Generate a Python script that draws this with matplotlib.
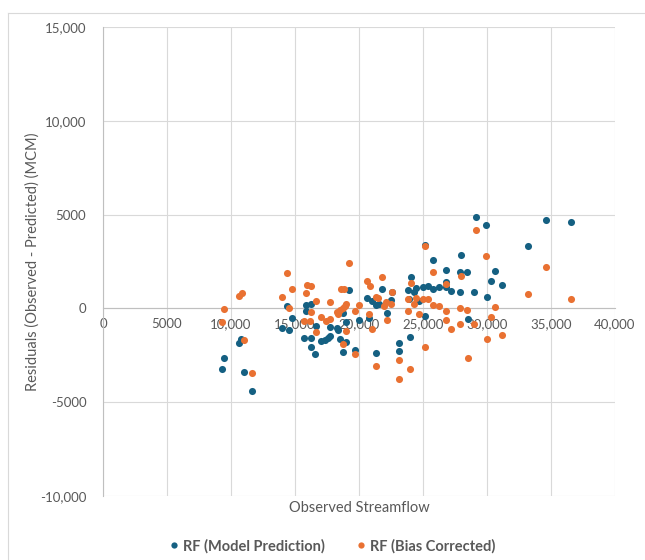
import matplotlib
matplotlib.use("Agg")
import matplotlib.pyplot as plt
from matplotlib.ticker import FuncFormatter, MultipleLocator
from matplotlib.lines import Line2D

# Data
rf_model_x = [9266, 9427, 10618, 10811, 11004, 11647, 14414, 13996, 14543, 14768,
              15894, 15894, 16280, 15701, 16280, 16216, 16570, 16667, 17053, 17375,
              17600, 17728, 17696, 18275, 18340, 18533, 18726, 18726, 18983, 18983,
              19241, 19723, 20013, 20592, 20753, 20978, 21300, 21300, 21557, 21815,
              22201, 22523, 22587, 23102, 23102, 23806, 23903, 23967, 24063, 24289,
              24450, 24707, 25032, 25161, 25161, 25418, 25804, 25804, 26222, 26770,
              26770, 26770, 27188, 27928, 27992, 27928, 28411, 28539, 28990, 29118,
              29923, 29987, 30341, 30630, 31177, 33237, 34620, 36551]
rf_model_y = [-3215, -2626, -1827, -1655, -3368, -4395, 133, -1027, -1141, -495,
              190, -114, 228, -1598, -1598, -2074, -2416, -932, -1731, -1693,
              -1560, -1465, -970, -1046, -1160, -1655, -2340, -247, -704, -1807,
              970, -2226, -628, 552, -495, 400, 190, -2378, 247, 1046,
              -266, 438, 875, -1827, -2283, 970, 514, -1541, 1693, 856,
              1084, 380, 1160, 3405, -380, 1198, 2568, 1046, 1141, 2055,
              1389, 1141, 913, 875, 2854, 1960, 1960, -571, 875, 4890,
              4433, 590, 1484, 2017, 1237, 3349, 4738, 4586]

rf_bias_x = [9266, 9427, 10618, 10843, 11004, 11647, 13964, 14414, 14543, 14768,
             15894, 15927, 16280, 15701, 16280, 16152, 16602, 16667, 17053, 17439,
             17696, 17696, 18275, 18340, 18533, 18597, 18790, 18726, 18919, 19015,
             18726, 18983, 19241, 19723, 19723, 20013, 20592, 20849, 20753, 21010,
             21300, 21493, 21300, 21815, 21944, 22201, 22072, 22523, 22587, 23102,
             23102, 23806, 23838, 23967, 24063, 24289, 24450, 24707, 25032, 25161,
             25161, 25418, 25804, 25804, 26222, 26770, 26770, 26770, 27188, 27928,
             27992, 27928, 28411, 28539, 28990, 29118, 29923, 29987, 30341, 30630,
             31177, 33237, 34620, 36551]
rf_bias_y = [-704, -57, 647, 799, -1674, -3463, 609, 1865, 38, 1008,
             837, 1237, 1198, -666, -209, -647, -1256, 380, -457, -666,
             -552, 342, -209, -323, -95, 1046, 1046, 19, 152, 209,
             -1903, -1180, 2397, -114, -2416, 190, 1446, 1198, -323, -1084,
             590, 533, -3063, 1674, 152, -628, 342, 247, 856, -2740,
             -3787, -114, 476, -3215, 1332, 209, 533, -323, 476, 3330,
             -2074, 514, 1960, 190, 133, 1294, -114, -609, -1103, 19,
             1731, -856, -95, -2626, -856, 4186, 2778, -1617, -476, 95,
             -1408, 780, 2188, 495]

blue = "#156082"
orange = "#E97132"
text_gray = "#595959"

plt.rcParams["font.family"] = ["Lato", "DejaVu Sans"]

fig = plt.figure(figsize=(6.45, 5.6), dpi=100)
ax = fig.add_axes([103 / 645, 1 - 496 / 560, 512 / 645, 469 / 560])

ax.scatter(rf_model_x, rf_model_y, s=26, color=blue, linewidths=0, zorder=3,
           label="RF (Model Prediction)")
ax.scatter(rf_bias_x, rf_bias_y, s=26, color=orange, linewidths=0, zorder=3,
           label="RF (Bias Corrected)")

ax.set_xlim(0, 40000)
ax.set_ylim(-10000, 15000)
ax.xaxis.set_major_locator(MultipleLocator(5000))
ax.yaxis.set_major_locator(MultipleLocator(5000))


def excel_fmt(v, pos):
    v = int(round(v))
    if abs(v) >= 10000:
        return f"{v:,}"
    return str(v)


ax.xaxis.set_major_formatter(FuncFormatter(excel_fmt))
ax.yaxis.set_major_formatter(FuncFormatter(excel_fmt))

ax.grid(True, color="#D9D9D9", linewidth=0.8, zorder=0)
ax.set_axisbelow(True)
for s in ["top", "right"]:
    ax.spines[s].set_visible(False)
ax.spines["bottom"].set_position(("data", 0))
ax.spines["bottom"].set_color("#BFBFBF")
ax.spines["left"].set_color("#BFBFBF")
ax.spines["bottom"].set_linewidth(0.8)
ax.spines["left"].set_linewidth(0.8)
ax.spines["bottom"].set_zorder(1)
ax.tick_params(length=0, labelsize=9.5, colors=text_gray, pad=7)
ax.tick_params(axis="y", pad=12)

fig.text(359 / 645, 1 - 508 / 560, "Observed Streamflow", ha="center", va="center",
         fontsize=10.5, color=text_gray)
fig.text(33 / 645, 1 - 262 / 560, "Residuals (Observed - Predicted) (MCM)",
         ha="center", va="center", rotation=90, fontsize=10.5, color=text_gray)

handles = [
    Line2D([], [], marker="o", linestyle="none", color=blue, markersize=4.5,
           markeredgewidth=0, label="RF (Model Prediction)"),
    Line2D([], [], marker="o", linestyle="none", color=orange, markersize=4.5,
           markeredgewidth=0, label="RF (Bias Corrected)"),
]
leg = fig.legend(handles=handles, loc="center", bbox_to_anchor=(331 / 645, 1 - 546 / 560),
                 ncol=2, frameon=False, handletextpad=0.1, columnspacing=2.0,
                 handlelength=1.0, prop={"weight": "bold", "size": 10.5})
for t in leg.get_texts():
    t.set_color(text_gray)

# chart frame
fig.add_artist(Line2D([7.5 / 645, 1], [1 - 12.5 / 560, 1 - 12.5 / 560],
                      transform=fig.transFigure, color="#D9D9D9", linewidth=0.8))
fig.add_artist(Line2D([7.5 / 645, 7.5 / 645], [0, 1 - 12.5 / 560],
                      transform=fig.transFigure, color="#D9D9D9", linewidth=0.8))

fig.savefig("out.png", dpi=100)
